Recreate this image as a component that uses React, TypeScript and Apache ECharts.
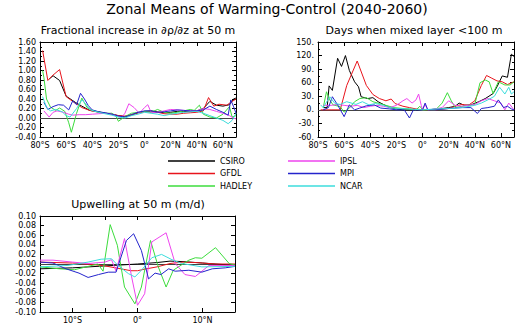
import React, { useEffect, useRef } from "react";
import * as echarts from "echarts";

const MODELS = ["CSIRO", "GFDL", "HADLEY", "IPSL", "MPI", "NCAR"];
const COLORS = ["#000000", "#e8141c", "#3cdc3c", "#ee44ee", "#2424cc", "#3cdcdc"];

const TITLE_MAIN = "Zonal Means of Warming-Control (2040-2060)";
const TITLE_A = "Fractional increase in \u2202\u03c1/\u2202z at 50 m";
const TITLE_B = "Days when mixed layer <100 m";
const TITLE_C = "Upwelling at 50 m (m/d)";

// Panel A: fractional increase in d rho/dz at 50 m  [lat, value]
const csiroA = [[-73,0.82],[-70,0.89],[-65,0.79],[-60,0.46],[-53,0.33],[-48,0.25],[-42,0.16],[-35,0.13],[-30,0.10],[-25,0.08],[-20,0.05],[-15,0.03],[-10,0.06],[-5,0.11],[0,0.14],[5,0.15],[10,0.13],[15,0.11],[20,0.12],[25,0.14],[30,0.14],[35,0.14],[40,0.15],[45,0.20],[50,0.35],[55,0.27],[60,0.25],[65,0.28],[68,0.40],[70,0.42]];
const gfdlA = [[-78,1.42],[-74,0.79],[-71,0.88],[-65,1.02],[-60,0.45],[-54,0.33],[-48,0.22],[-42,0.16],[-35,0.12],[-30,0.10],[-25,0.08],[-20,0.05],[-15,0.04],[-10,0.07],[-5,0.11],[0,0.13],[5,0.13],[10,0.12],[15,0.09],[20,0.08],[25,0.08],[30,0.10],[35,0.11],[40,0.12],[45,0.15],[49,0.43],[53,0.25],[57,0.29],[63,0.27],[66,0.33],[70,0.40]];
const hadleyA = [[-78,1.0],[-77,0.85],[-75,0.40],[-72,0.23],[-68,0.16],[-65,0.21],[-61,0.14],[-58,-0.10],[-56,-0.30],[-52,0.10],[-48,0.42],[-44,0.22],[-40,0.16],[-35,0.12],[-30,0.10],[-25,0.10],[-22,0.05],[-20,-0.07],[-15,0.03],[-10,0.10],[-5,0.12],[0,0.14],[5,0.12],[10,0.18],[15,0.12],[20,0.10],[25,0.12],[30,0.15],[35,0.18],[38,0.16],[42,0.27],[45,0.08],[50,0.02],[55,0.00],[60,0.08],[65,0.24],[67,0.02],[70,0.05]];
const ipslA = [[-77,0.15],[-73,0.02],[-70,0.12],[-67,0.15],[-62,0.12],[-58,0.08],[-55,0.06],[-50,0.07],[-45,0.07],[-40,0.08],[-35,0.09],[-30,0.10],[-25,0.08],[-20,0.03],[-17,0.03],[-15,0.10],[-12,0.30],[-8,0.22],[-4,0.10],[0,0.22],[2.5,0.28],[5,0.12],[10,0.12],[15,0.15],[20,0.18],[25,0.17],[30,0.16],[35,0.15],[40,0.15],[45,0.20],[50,0.18],[55,0.14],[60,0.10],[65,0.05],[68,0.00],[70,-0.02]];
const mpiA = [[-77,0.33],[-74,0.18],[-70,0.24],[-66,0.28],[-62,0.27],[-58,0.17],[-55,0.36],[-52,0.28],[-49,0.52],[-46,0.40],[-43,0.26],[-40,0.17],[-35,0.13],[-30,0.11],[-25,0.08],[-20,0.04],[-15,0.02],[-10,0.07],[-5,0.12],[0,0.15],[5,0.15],[10,0.12],[15,0.13],[20,0.15],[25,0.17],[30,0.16],[35,0.15],[40,0.15],[45,0.17],[50,0.25],[55,0.18],[60,0.12],[64,0.06],[66,0.38],[68,0.25],[70,0.10]];
const ncarA = [[-78,0.45],[-75,0.22],[-72,0.15],[-68,0.18],[-63,0.13],[-60,0.05],[-57,0.02],[-52,0.20],[-48,0.38],[-45,0.30],[-42,0.18],[-38,0.14],[-32,0.10],[-25,0.06],[-20,0.02],[-15,0.00],[-10,0.05],[-5,0.08],[0,0.12],[5,0.10],[10,0.08],[15,0.05],[20,0.08],[25,0.10],[30,0.12],[35,0.13],[40,0.14],[45,0.10],[50,0.05],[55,0.00],[60,-0.05],[64,-0.12],[67,-0.05],[70,0.10]];

// Panel B: days when mixed layer < 100 m  [lat, days]
const csiroB = [[-76,5],[-73,5],[-71.5,53],[-69,43],[-65,114],[-62,96],[-59,120],[-56,87],[-52,62],[-49,51],[-47,29],[-42,25],[-38,27],[-34,18],[-30,12],[-25,5],[-20,2],[-15,0],[-10,0],[-5,0],[0,0],[5,0],[10,2],[15,3],[20,5],[25,8],[28,15],[32,10],[37,11],[43,18],[48,25],[54,36],[57,51],[61,75],[65,72],[68,123],[70,118]];
const gfdlB = [[-78,0],[-70,0],[-63,0],[-58,54],[-50,108],[-43,54],[-38,34],[-33,25],[-28,20],[-24,24],[-21,14],[-15,8],[-10,5],[-5,2],[0,0],[10,0],[20,3],[25,8],[30,12],[35,10],[40,20],[45,54],[49,76],[53,70],[57,64],[61,62],[65,56],[70,62]];
const hadleyB = [[-76,5],[-73.5,40],[-71,22],[-68.5,11],[-63,7],[-60,-5],[-56,4],[-52,18],[-48,25],[-43,27],[-38,18],[-33,14],[-28,10],[-22,5],[-15,3],[-10,2],[-5,0],[-2,8],[0,0],[10,0],[15,15],[19,38],[22,20],[25,5],[30,8],[35,10],[40,12],[44,60],[48,66],[51,62],[54,36],[58,62],[63,55],[67,55],[70,62]];
const ipslB = [[-76,10],[-70,10],[-65,12],[-60,10],[-55,8],[-50,10],[-45,5],[-40,8],[-35,10],[-30,8],[-25,5],[-20,10],[-15,20],[-12,25],[-8,15],[-5,22],[-3,35],[-1,10],[0,0],[2,12],[4,0],[10,2],[15,5],[20,20],[25,10],[30,8],[35,10],[40,12],[45,20],[50,25],[55,20],[60,15],[63,0],[66,15],[70,0]];
const mpiB = [[-76,0],[-72,5],[-69,29],[-65,11],[-60,-15],[-56,11],[-52,0],[-48,4],[-43,9],[-37,11],[-32,4],[-25,2],[-20,0],[-14,0],[-10,-18],[-7,0],[0,0],[2,15],[4,0],[10,0],[20,3],[30,5],[37,5],[42,-8],[45,3],[50,5],[55,8],[58,22],[62,5],[65,8],[68,2],[70,0]];
const ncarB = [[-78,11],[-76,5],[-71,29],[-67,14],[-63,12],[-58,18],[-51,12],[-46,18],[-41,11],[-36,14],[-30,10],[-25,5],[-20,3],[-10,2],[0,0],[10,2],[20,3],[30,5],[40,10],[45,15],[50,22],[55,30],[59,50],[63,35],[66,50],[68,35],[70,40]];

// Panel C: upwelling at 50 m (m/d)  [lat, value]
const csiroC = [[-15,-0.010],[-10,-0.008],[-5,-0.004],[0,0.000],[3,0.003],[5,0.006],[7,0.005],[10,0.002],[15,-0.003]];
const gfdlC = [[-15,0.004],[-10,0.002],[-7,-0.001],[-5,-0.004],[-3,-0.009],[-1,-0.014],[0,-0.014],[1,-0.011],[3,-0.006],[5,0.001],[7,0.004],[9,0.003],[12,0.000],[15,0.000]];
const hadleyC = [[-15,-0.006],[-12,-0.010],[-9.7,-0.012],[-6.1,0.000],[-5.3,-0.015],[-4.2,0.082],[-3.1,0.039],[-2.0,-0.048],[-0.4,-0.083],[0.6,-0.048],[2.0,0.049],[3.2,-0.006],[4.4,-0.048],[5.5,-0.013],[7.9,0.008],[8.9,0.013],[9.9,0.012],[12.0,0.034],[14.1,0.001],[15,-0.002]];
const ipslC = [[-15,0.008],[-13,0.008],[-10,0.004],[-7.6,0.001],[-5,0.004],[-4,0.009],[-3.3,-0.015],[-2,0.053],[-0.9,-0.027],[0,-0.086],[1.1,-0.062],[2.2,0.046],[4.4,0.065],[5.8,0.001],[7.3,-0.022],[8.9,-0.026],[11,-0.003],[13,-0.003],[15,-0.003]];
const mpiC = [[-15,0.004],[-13,0.002],[-11,-0.010],[-9,-0.019],[-7.6,-0.028],[-6,-0.022],[-4.5,-0.017],[-3.3,-0.017],[-1.7,0.049],[-0.6,0.063],[0.6,0.028],[1.7,-0.031],[2.7,-0.019],[3.6,-0.022],[4.8,-0.010],[5.8,-0.015],[7.9,-0.013],[9.9,-0.017],[11.5,-0.010],[13.5,-0.008],[15,-0.005]];
const ncarC = [[-15,-0.006],[-10.7,-0.003],[-7.6,0.004],[-5.6,0.010],[-4,0.011],[-3,-0.003],[-1.4,-0.020],[-0.4,-0.027],[0.6,-0.013],[2.2,0.013],[3.7,0.020],[5.3,0.009],[6.8,0.001],[9.9,-0.006],[15,-0.005]];

const PANEL_A = [csiroA, gfdlA, hadleyA, ipslA, mpiA, ncarA];
const PANEL_B = [csiroB, gfdlB, hadleyB, ipslB, mpiB, ncarB];
const PANEL_C = [csiroC, gfdlC, hadleyC, ipslC, mpiC, ncarC];

const FONT = "DejaVu Sans";
const TFONT = "DejaVu Sans";

const latFmt = (v: number) => {
  const r = Math.round(v);
  if (r === 0) return "0\u00b0";
  return r < 0 ? `${-r}\u00b0S` : `${r}\u00b0N`;
};

function makeAxes(gi: number, x: any, y: any) {
  const line = { show: true, onZero: false, lineStyle: { color: "#000", width: 1 } };
  const tick = { show: true, inside: true, length: 4, lineStyle: { color: "#000", width: 1 } };
  const minor = { show: true, splitNumber: 2, length: 2, lineStyle: { color: "#000", width: 1 } };
  const base = (pos: string, cfg: any, labels: boolean) => ({
    gridIndex: gi,
    type: "value",
    position: pos,
    min: cfg.min,
    max: cfg.max,
    interval: cfg.interval,
    axisLine: line,
    axisTick: tick,
    minorTick: { ...minor, splitNumber: cfg.minorSplit, show: cfg.minorSplit > 1 },
    splitLine: { show: false },
    axisLabel: labels
      ? {
          show: true,
          formatter: cfg.fmt,
          fontSize: 8,
          fontFamily: FONT,
          color: "#000",
          margin: 4,
          showMaxLabel: cfg.showMax,
          hideOverlap: false,
        }
      : { show: false },
  });
  return {
    xAxes: [base("bottom", x, true), base("top", x, false)],
    yAxes: [base("left", y, true), base("right", y, false)],
  };
}

export default function App() {
  const ref = useRef<HTMLDivElement>(null);
  useEffect(() => {
    if (!ref.current) return;
    const chart = echarts.init(ref.current, undefined, { renderer: "svg" });

    const latTop = { min: -80, max: 70, interval: 20, fmt: latFmt, minorSplit: 2, showMax: false };
    const aY = { min: -0.4, max: 1.6, interval: 0.2, fmt: (v: number) => v.toFixed(2), minorSplit: 2, showMax: true };
    const bY = { min: -60, max: 150, interval: 30, fmt: (v: number) => `${Math.round(v)}.`, minorSplit: 2, showMax: true };
    const cX = {
      min: -15, max: 15, interval: 5,
      fmt: (v: number) => (Math.round(v) % 10 === 0 ? latFmt(v) : ""),
      minorSplit: 1, showMax: false,
    };
    const cY = { min: -0.1, max: 0.1, interval: 0.02, fmt: (v: number) => v.toFixed(2), minorSplit: 1, showMax: true };

    const a = makeAxes(0, latTop, aY);
    const b = makeAxes(1, latTop, bY);
    const c = makeAxes(2, cX, cY);

    const panels = [PANEL_A, PANEL_B, PANEL_C];
    const series: any[] = [];
    panels.forEach((panel, gi) => {
      panel.forEach((data, mi) => {
        series.push({
          type: "line",
          name: MODELS[mi],
          xAxisIndex: gi * 2,
          yAxisIndex: gi * 2,
          data,
          showSymbol: false,
          symbol: "none",
          color: COLORS[mi],
          lineStyle: { width: 1, color: COLORS[mi] },
          itemStyle: { color: COLORS[mi] },
          z: 3,
          markLine:
            mi === 0
              ? {
                  silent: true,
                  symbol: "none",
                  label: { show: false },
                  lineStyle: { color: "#444", width: 1, type: "solid" },
                  data: [{ yAxis: 0 }],
                  z: 2,
                }
              : undefined,
        });
      });
    });

    const legendBase = {
      orient: "vertical",
      icon: "rect",
      itemWidth: 47,
      itemHeight: 1.5,
      itemGap: 2.5,
      padding: 0,
      textStyle: { fontSize: 8, fontFamily: FONT, color: "#000", lineHeight: 10 },
      selectedMode: false,
    };

    chart.setOption({
      animation: false,
      backgroundColor: "#ffffff",
      title: [
        { text: TITLE_MAIN, left: 267, top: 2, textAlign: "center", padding: 0,
          textStyle: { fontSize: 14, fontWeight: "normal", fontFamily: TFONT, color: "#000" } },
        { text: TITLE_A, left: 138, top: 25, textAlign: "center", padding: 0,
          textStyle: { fontSize: 11, fontWeight: "normal", fontFamily: TFONT, color: "#000" } },
        { text: TITLE_B, left: 414, top: 25, textAlign: "center", padding: 0,
          textStyle: { fontSize: 11, fontWeight: "normal", fontFamily: TFONT, color: "#000" } },
        { text: TITLE_C, left: 138, top: 199, textAlign: "center", padding: 0,
          textStyle: { fontSize: 11, fontWeight: "normal", fontFamily: TFONT, color: "#000" } },
      ],
      legend: [
        { ...legendBase, left: 168, top: 156, data: MODELS.slice(0, 3) },
        { ...legendBase, left: 288, top: 156, data: MODELS.slice(3, 6) },
      ],
      grid: [
        { left: 40, top: 42, width: 196, height: 95 },
        { left: 318, top: 42, width: 196, height: 95 },
        { left: 40, top: 216, width: 195, height: 96 },
      ],
      xAxis: [...a.xAxes, ...b.xAxes, ...c.xAxes],
      yAxis: [...a.yAxes, ...b.yAxes, ...c.yAxes],
      series,
    });

    return () => chart.dispose();
  }, []);

  return (
    <div
      ref={ref}
      style={{ position: "absolute", left: 0, top: 0, width: 516, height: 331, background: "#fff" }}
    />
  );
}
